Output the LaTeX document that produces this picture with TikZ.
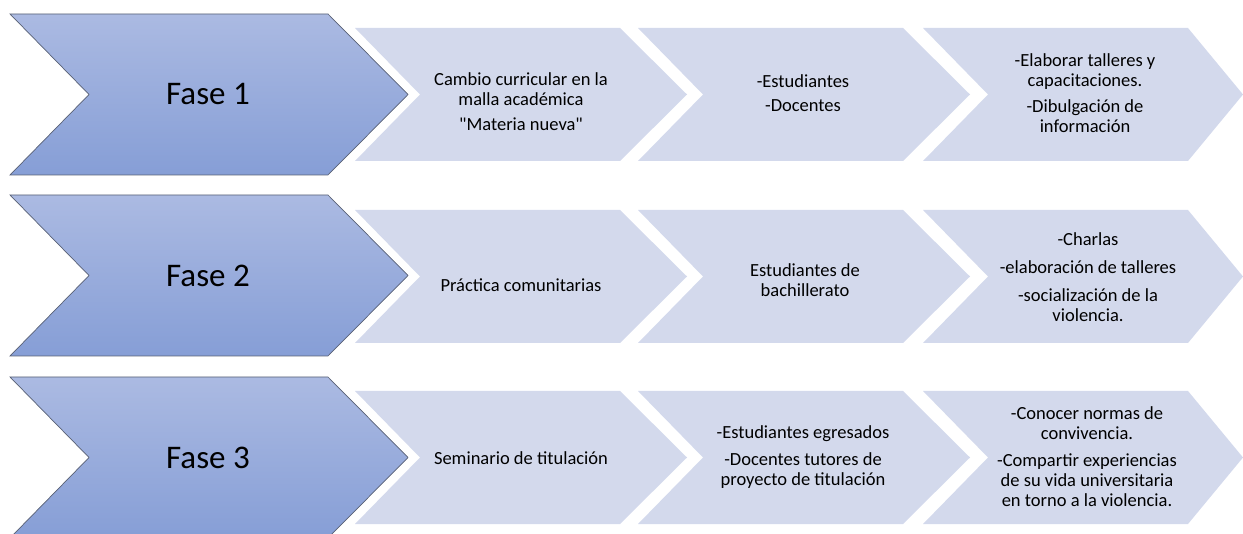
\documentclass[tikz,border=0pt]{standalone}
\usepackage{fontspec}
\setmainfont{Carlito}
\definecolor{faseTop}{RGB}{171,186,226}
\definecolor{faseBot}{RGB}{134,158,214}
\definecolor{faseLine}{RGB}{88,96,116}
\definecolor{pasoFill}{RGB}{211,217,236}
\begin{document}
\begin{tikzpicture}[x=1pt,y=-1pt,
	fase/.style={draw=faseLine,line width=.7pt,top color=faseTop,bottom color=faseBot},
	paso/.style={fill=pasoFill},
	pasotxt/.style={align=center,inner sep=0pt,font=\fontsize{18.5}{20}\selectfont},
	fasetxt/.style={inner sep=0pt,font=\fontsize{33}{38}\selectfont}]
\useasboundingbox (0,0) rectangle (1243,534);
\foreach \y in {94.5,276.5,457.5}
{
	\foreach \x/\w in {355/332, 638/332, 923/320}
	{
		\fill[paso] (\x,\y-66.5) -- (\x+265,\y-66.5) -- (\x+\w,\y) -- (\x+265,\y+66.5) -- (\x,\y+66.5) -- (\x+65,\y) -- cycle;
	}
}
\foreach \y/\n in {94.5/1, 275.5/2, 457.5/3}
{
	\draw[fase] (10,\y-80.5) -- (328,\y-80.5) -- (408,\y) -- (328,\y+80.5) -- (10,\y+80.5) -- (89,\y) -- cycle;
	\node[fasetxt] (fase\n) at (208,\y) {Fase \n};
}
% fase 1
\node[pasotxt] (malla) at (521,102) {Cambio curricular en la\\malla académica\\[5pt]\textquotedbl Materia nueva\textquotedbl};
\node[pasotxt] (actores1) at (803,93) {-Estudiantes\\[4pt]-Docentes};
\node[pasotxt] (acciones1) at (1085,93) {-Elaborar talleres y\\capacitaciones.\\[6pt]-Dibulgación de\\información};
% fase 2
\node[pasotxt] (practica) at (521,285) {Práctica comunitarias};
\node[pasotxt] (actores2) at (805,280) {Estudiantes de\\bachillerato};
\node[pasotxt] (acciones2) at (1088,277) {-Charlas\\[8pt]-elaboración de talleres\\[8pt]-socialización de la\\violencia.};
% fase 3
\node[pasotxt] (seminario) at (521,458) {Seminario de titulación};
\node[pasotxt] (actores3) at (803,457) {-Estudiantes egresados\\[7pt]-Docentes tutores de\\proyecto de titulación};
\node[pasotxt] (acciones3) at (1087,457) {-Conocer normas de\\convivencia.\\[7pt]-Compartir experiencias\\de su vida universitaria\\en torno a la violencia.};
\end{tikzpicture}
\end{document}
